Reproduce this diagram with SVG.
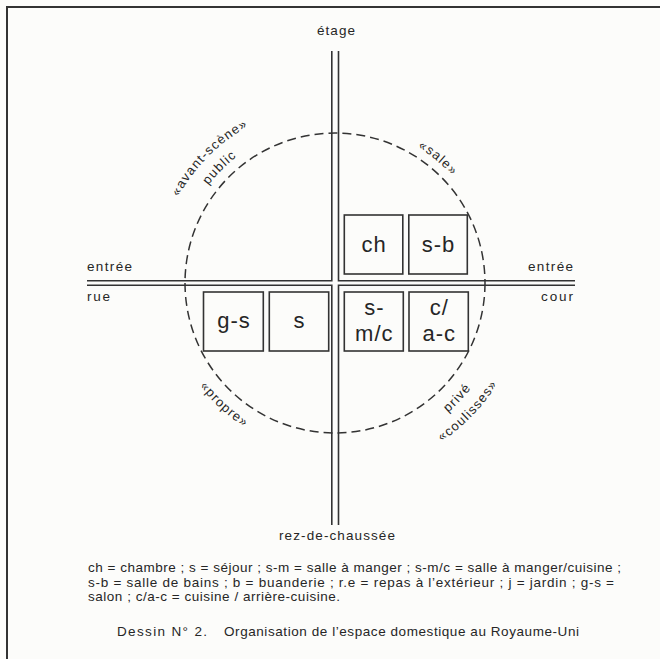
<svg xmlns="http://www.w3.org/2000/svg" width="660" height="659" viewBox="0 0 660 659">
  <style>
    .t { font-family: "Liberation Sans", Arial, sans-serif; font-size: 13.5px; fill: #262626; }
    .lbl { font-family: "Liberation Sans", Arial, sans-serif; font-size: 22px; fill: #262626; text-anchor: middle; letter-spacing: 1px; }
    .arc { font-family: "Liberation Sans", Arial, sans-serif; font-size: 13px; fill: #262626; letter-spacing: 1.2px; }
    .box { fill: none; stroke: #333; stroke-width: 1.6; }
    .ax { fill: none; stroke: #333; stroke-width: 1.6; }
    .circ { fill: none; stroke: #333; stroke-width: 1.5; stroke-dasharray: 9 5; }
  </style>
  <defs>
    <path id="upA" d="M 156 283 A 179 179 0 0 1 514 283"/>
    <path id="upP" d="M 175 283 A 160 160 0 0 1 495 283"/>
    <path id="upS" d="M 176 283 A 159 159 0 0 1 494 283"/>
    <path id="loP" d="M 165 283 A 170 170 0 0 0 505 283"/>
    <path id="loV" d="M 163 283 A 172 172 0 0 0 507 283"/>
    <path id="loC" d="M 144 283 A 191 191 0 0 0 526 283"/>
  </defs>
  <rect x="0" y="0" width="660" height="659" fill="#fcfcfa"/>
  <path d="M 7 659 L 7 7 L 660 7" fill="none" stroke="#333" stroke-width="2"/>

  <g id="connectors">
    <path class="ax" d="M 331.8 51 L 331.8 280.8 L 87 280.8"/>
    <path class="ax" d="M 338.5 51 L 338.5 280.8 L 575 280.8"/>
    <path class="ax" d="M 87 285.2 L 331.8 285.2 L 331.8 525"/>
    <path class="ax" d="M 575 285.2 L 338.5 285.2 L 338.5 525"/>
    <circle class="circ" cx="335" cy="283" r="150"/>
  </g>

  <g id="axis-labels">
    <text class="t" x="317" y="35" textLength="38" lengthAdjust="spacing">étage</text>
    <text class="t" x="279" y="540" textLength="116" lengthAdjust="spacing">rez-de-chaussée</text>
    <text class="t" x="87" y="271" textLength="45" lengthAdjust="spacing">entrée</text>
    <text class="t" x="87" y="301" textLength="23" lengthAdjust="spacing">rue</text>
    <text class="t" x="528" y="271" textLength="45" lengthAdjust="spacing">entrée</text>
    <text class="t" x="541" y="301" textLength="32" lengthAdjust="spacing">cour</text>
  </g>

  <g id="zone-labels">
    <text class="arc"><textPath href="#upA" startOffset="25%" text-anchor="middle">«avant-scène»</textPath></text>
    <text class="arc"><textPath href="#upP" startOffset="25%" text-anchor="middle">public</textPath></text>
    <text class="arc"><textPath href="#upS" startOffset="72%" text-anchor="middle">«sale»</textPath></text>
    <text class="arc"><textPath href="#loP" startOffset="26.5%" text-anchor="middle">«propre»</textPath></text>
    <text class="arc"><textPath href="#loV" startOffset="76%" text-anchor="middle">privé</textPath></text>
    <text class="arc"><textPath href="#loC" startOffset="75.6%" text-anchor="middle">«coulisses»</textPath></text>
  </g>

  <g id="node-ch">
    <rect class="box" x="344.3" y="215" width="58.5" height="59"/>
    <text class="lbl" x="374" y="252">ch</text>
  </g>
  <g id="node-s-b">
    <rect class="box" x="408.8" y="215" width="58.5" height="59"/>
    <text class="lbl" x="438.5" y="252">s-b</text>
  </g>
  <g id="node-g-s">
    <rect class="box" x="203.5" y="292" width="59.8" height="59"/>
    <text class="lbl" x="234" y="328">g-s</text>
  </g>
  <g id="node-s">
    <rect class="box" x="269.3" y="292" width="59.4" height="59"/>
    <text class="lbl" x="299.5" y="328">s</text>
  </g>
  <g id="node-s-m-c">
    <rect class="box" x="344.3" y="292" width="59" height="59"/>
    <text class="lbl" x="374.3" y="314.5">s-</text>
    <text class="lbl" x="374.3" y="341">m/c</text>
  </g>
  <g id="node-c-a-c">
    <rect class="box" x="409" y="292" width="59.3" height="59"/>
    <text class="lbl" x="439.2" y="314.5">c/</text>
    <text class="lbl" x="439.2" y="341">a-c</text>
  </g>

  <g id="legend">
    <text class="t" x="88" y="572" textLength="533" lengthAdjust="spacing">ch = chambre ; s = séjour ; s-m = salle à manger ; s-m/c = salle à manger/cuisine ;</text>
    <text class="t" x="88" y="587" textLength="526" lengthAdjust="spacing">s-b = salle de bains ; b = buanderie ; r.e = repas à l’extérieur ; j = jardin ; g-s =</text>
    <text class="t" x="88" y="601" textLength="252" lengthAdjust="spacing">salon ; c/a-c = cuisine / arrière-cuisine.</text>
    <text class="t" x="117" y="636" textLength="90" lengthAdjust="spacing">Dessin N° 2.</text>
    <text class="t" x="224" y="636" textLength="355" lengthAdjust="spacing">Organisation de l’espace domestique au Royaume-Uni</text>
  </g>
</svg>
